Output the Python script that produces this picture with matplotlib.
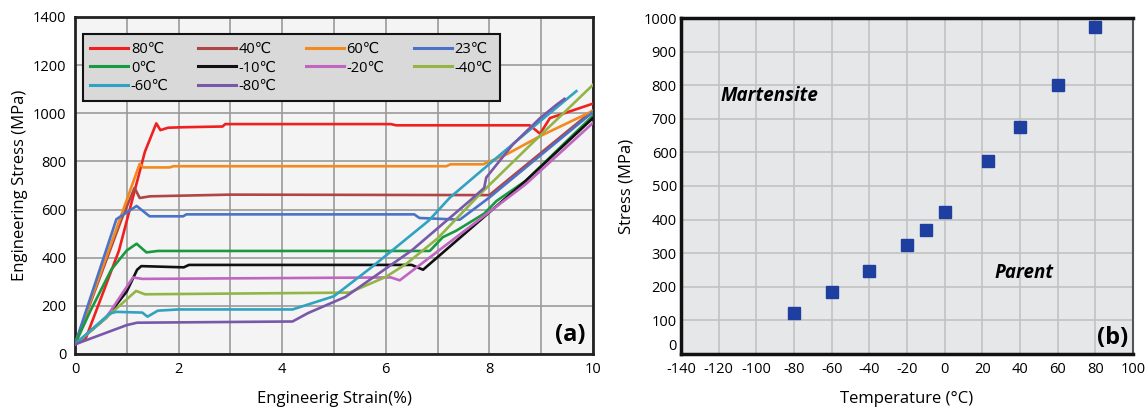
import matplotlib
matplotlib.use("Agg")
import matplotlib.pyplot as plt

plt.rcParams['font.family'] = ['Open Sans', 'DejaVu Sans']
plt.rcParams['axes.unicode_minus'] = False

# ---------------- panel (a): stress-strain curves ----------------
strain_80 = [0, 0.2, 0.85, 1.35, 1.57, 1.65, 1.8, 2.1, 2.85, 2.9, 6.1, 6.2, 8.78, 8.98, 9.17, 10]
stress_80 = [40, 60, 430, 840, 958, 930, 940, 942, 945, 955, 955, 950, 950, 915, 980, 1040]

strain_40 = [0, 0.9, 1.15, 1.25, 1.45, 3.0, 8.0, 10]
stress_40 = [40, 560, 690, 648, 655, 662, 660, 1012]

strain_60 = [0, 1.25, 1.32, 1.83, 1.9, 7.17, 7.25, 7.88, 8.33, 8.98, 10]
stress_60 = [40, 790, 775, 775, 780, 780, 788, 788, 829, 905, 1010]

strain_23 = [0, 0.8, 1.19, 1.44, 2.09, 2.15, 6.55, 6.65, 7.43, 8.0, 10]
stress_23 = [40, 560, 615, 572, 572, 580, 580, 565, 558, 650, 1005]

strain_0 = [0, 0.3, 0.7, 1.0, 1.19, 1.38, 1.6, 6.85, 7.1, 7.36, 7.9, 8.14, 8.7, 10]
stress_0 = [40, 180, 350, 430, 458, 422, 428, 428, 485, 512, 583, 636, 719, 990]

strain_m10 = [0, 0.6, 1.0, 1.2, 1.28, 2.1, 2.2, 6.5, 6.72, 8.7, 10]
stress_m10 = [40, 150, 260, 350, 365, 360, 370, 370, 350, 719, 980]

strain_m20 = [0, 0.6, 1.12, 1.3, 6.1, 6.27, 8.7, 10]
stress_m20 = [40, 150, 318, 312, 318, 306, 705, 960]

strain_m40 = [0, 0.6, 1.18, 1.35, 5.3, 6.0, 6.4, 7.0, 7.8, 8.8, 10]
stress_m40 = [40, 150, 262, 248, 255, 320, 375, 480, 660, 870, 1118]

strain_m60 = [0, 0.67, 0.8, 1.3, 1.4, 1.6, 2.0, 4.2, 5.0, 5.73, 6.83, 7.24, 8.14, 8.98, 9.68]
stress_m60 = [40, 168, 175, 172, 155, 180, 185, 185, 240, 361, 554, 650, 815, 967, 1092]

strain_m80 = [0, 1.0, 1.2, 4.2, 4.5, 5.22, 6.5, 7.62, 7.9, 7.94, 8.46, 8.98, 9.3, 9.45]
stress_m80 = [40, 120, 130, 135, 170, 237, 430, 636, 690, 733, 872, 980, 1036, 1060]

labels_a = ['80℃', '40℃', '60℃', '23℃', '0℃', '-10℃', '-20℃', '-40℃', '-60℃', '-80℃']
colors_a = ['#f02020', '#b04545', '#f28a1e', '#4a72c8', '#1a9a40', '#111111',
            '#c065c0', '#92b545', '#30a2c2', '#7858a8']

# ---------------- panel (b): transformation stress vs temperature ----------------
temperature = [-80, -60, -40, -20, -10, 0, 23, 40, 60, 80]
stress_b = [122, 184, 246, 323, 370, 423, 575, 676, 800, 972]

fig = plt.figure(figsize=(11.48, 4.12), dpi=100)

# ---- panel (a)
ax1 = fig.add_axes([0.0653, 0.1408, 0.4512, 0.818])
ax1.set_facecolor('#f4f4f4')
series = [(strain_80, stress_80), (strain_40, stress_40), (strain_60, stress_60),
          (strain_23, stress_23), (strain_0, stress_0), (strain_m10, stress_m10),
          (strain_m20, stress_m20), (strain_m40, stress_m40), (strain_m60, stress_m60),
          (strain_m80, stress_m80)]
handles = {}
for (sx, sy), lab, col in zip(series, labels_a, colors_a):
    ln, = ax1.plot(sx, sy, color=col, lw=1.9, label=lab, zorder=3)
    handles[lab] = ln
ax1.set_xlim(0, 10)
ax1.set_ylim(0, 1400)
ax1.set_xticks([0, 2, 4, 6, 8, 10])
ax1.set_xticks([1, 3, 5, 7, 9], minor=True)
ax1.set_yticks(range(0, 1401, 200))
ax1.grid(True, which='both', color='#9a9a9a', lw=1.2, zorder=0)
ax1.set_axisbelow(True)
ax1.tick_params(which='both', length=0, labelsize=10.5, pad=6)
for s in ax1.spines.values():
    s.set_color('#222222')
    s.set_linewidth(2.0)
ax1.set_xlabel('Engineerig Strain(%)', fontsize=12, labelpad=10)
ax1.set_ylabel('Engineering Stress (MPa)', fontsize=12, labelpad=4)
order = ['80℃', '0℃', '-60℃', '40℃', '-10℃', '-80℃', '60℃', '-20℃', '23℃', '-40℃']
leg = ax1.legend([handles[k] for k in order], order, ncol=4, loc='upper left',
                 bbox_to_anchor=(0.015, 0.948), borderaxespad=0, fontsize=10.5,
                 handlelength=2.6, handletextpad=0.2, columnspacing=2.0,
                 labelspacing=0.25, fancybox=False, framealpha=1,
                 facecolor='#d9d9d9', edgecolor='#111111', borderpad=0.5)
leg.get_frame().set_linewidth(1.5)
for h in leg.get_lines():
    h.set_linewidth(2.2)
ax1.text(0.985, 0.02, '(a)', transform=ax1.transAxes, fontsize=17,
         fontweight='bold', ha='right', va='bottom')

# ---- panel (b)
ax2 = fig.add_axes([0.5932, 0.1408, 0.3937, 0.8155])
ax2.set_facecolor('#e6e7e9')
ax2.plot(temperature, stress_b, 's', color='#1f3fa0', ms=8, zorder=3)
ax2.set_xlim(-140, 100)
ax2.set_ylim(0, 1000)
ax2.set_xticks(range(-140, 101, 20))
ax2.set_yticks(range(0, 1001, 100))
ax2.grid(True, color='#c2c2c2', lw=1.2, zorder=0)
ax2.set_axisbelow(True)
ax2.tick_params(axis='x', length=0, labelsize=10.5, pad=6)
ax2.tick_params(axis='y', length=0, labelsize=10.5, pad=3)
for lbl in ax2.get_yticklabels():
    if lbl.get_text() == '0':
        lbl.set_va('bottom')
for k in ['top', 'left', 'bottom']:
    ax2.spines[k].set_color('#111111')
    ax2.spines[k].set_linewidth(2.5)
ax2.spines['right'].set_color('#555555')
ax2.spines['right'].set_linewidth(1.5)
ax2.set_xlabel('Temperature (°C)', fontsize=12, labelpad=10)
ax2.set_ylabel('Stress (MPa)', fontsize=12, labelpad=6)
ax2.text(-93, 767, 'Martensite', fontsize=13.5, fontweight='bold', style='italic',
         ha='center', va='center')
ax2.text(42, 242, 'Parent', fontsize=13.5, fontweight='bold', style='italic',
         ha='center', va='center')
ax2.text(0.989, 0.012, '(b)', transform=ax2.transAxes, fontsize=17,
         fontweight='bold', ha='right', va='bottom')

fig.savefig('out.png', dpi=100)
